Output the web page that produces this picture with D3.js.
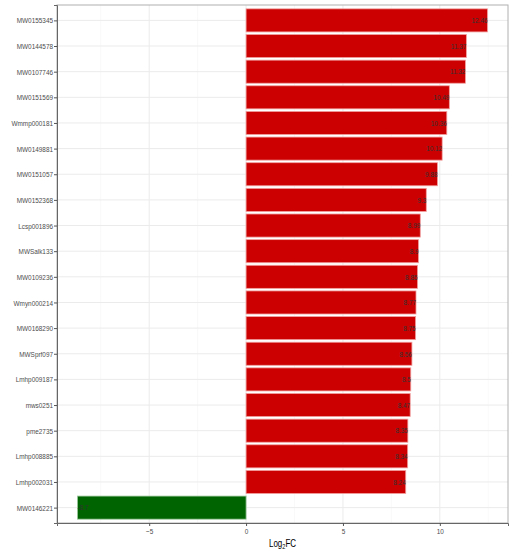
<!DOCTYPE html>
<html>
<head>
<meta charset="utf-8">
<script src="https://cdn.jsdelivr.net/npm/d3@7"></script>
<style>
  body { margin: 0; background: #fff; }
  svg text { font-family: "Liberation Sans Narrow", "Arial Narrow", "Liberation Sans", sans-serif; }
</style>
</head>
<body>
<div id="chart"></div>
<script>
// gene ids, top to bottom
var genes = ["MW0155345", "MW0144578", "MW0107746", "MW0151569", "Wmmp000181",
             "MW0149881", "MW0151057", "MW0152368", "Lcsp001896", "MWSalk133",
             "MW0109236", "Wmyn000214", "MW0168290", "MWSprf097", "Lmhp009187",
             "mws0251", "pme2735", "Lmhp008885", "Lmhp002031", "MW0146221"];
var log2fc = [12.46, 11.37, 11.32, 10.49, 10.36,
              10.12, 9.88, 9.3, 8.99, 8.9,
              8.85, 8.77, 8.75, 8.56, 8.5,
              8.47, 8.35, 8.34, 8.24, -8.7];
var xTicks = [-5, 0, 5, 10];
var xMinor = [-7.5, -2.5, 2.5, 7.5, 12.5];

var W = 512, H = 557;
// panel edges ("top" is taken on window, so p*)
var pLeft = 57, pRight = 508, pTop = 5, pBottom = 523;
var squeeze = 0.8;  // narrow font look

var data = genes.map(function(g, i) { return {gene: g, val: log2fc[i]}; });

var svg = d3.select("#chart").append("svg")
  .attr("width", W).attr("height", H);

var lo = d3.min(log2fc), hi = d3.max(log2fc), pad = (hi - lo) * 0.05;
var x = d3.scaleLinear()
  .domain([lo - pad, hi + pad])
  .range([pLeft, pRight]);

// discrete scale with ggplot's 0.6 expansion
var y = d3.scalePoint()
  .domain(genes)
  .range([pTop, pBottom])
  .padding(0.6);
var step = y.step();

// grid
var grid = svg.append("g");
grid.selectAll(".minor").data(xMinor).enter().append("line")
  .attr("x1", d => x(d)).attr("x2", d => x(d))
  .attr("y1", pTop).attr("y2", pBottom)
  .attr("stroke", "#f5f5f5").attr("stroke-width", 0.6);
grid.selectAll(".major").data(xTicks).enter().append("line")
  .attr("x1", d => x(d)).attr("x2", d => x(d))
  .attr("y1", pTop).attr("y2", pBottom)
  .attr("stroke", "#ebebeb").attr("stroke-width", 1);
grid.selectAll(".hmaj").data(genes).enter().append("line")
  .attr("x1", pLeft).attr("x2", pRight)
  .attr("y1", d => y(d)).attr("y2", d => y(d))
  .attr("stroke", "#ebebeb").attr("stroke-width", 1);

// bars
var bh = step * 0.9;
svg.append("g").selectAll("rect").data(data).enter().append("rect")
  .attr("x", d => x(Math.min(0, d.val)))
  .attr("width", d => Math.abs(x(d.val) - x(0)))
  .attr("y", d => y(d.gene) - bh / 2)
  .attr("height", bh)
  .attr("fill", d => d.val > 0 ? "#cc0000" : "#006400")
  .attr("stroke", d => d.val > 0 ? "#f2a0a0" : "#9cc79c")
  .attr("stroke-width", 0.8);

// value labels
svg.append("g").selectAll("text").data(data).enter().append("text")
  .attr("transform", d => "translate(" + x(d.val) + "," + y(d.gene) + ") scale(" + squeeze + ",1)")
  .attr("dy", "0.35em")
  .attr("text-anchor", d => d.val > 0 ? "end" : "start")
  .attr("font-size", 8)
  .attr("fill", "#333")
  .text(d => d.val);

// panel border
svg.append("rect")
  .attr("x", pLeft).attr("y", pTop)
  .attr("width", pRight - pLeft).attr("height", pBottom - pTop)
  .attr("fill", "none").attr("stroke", "#b0b0b0").attr("stroke-width", 1);

// axes
var xAxis = svg.append("g")
  .attr("transform", "translate(0," + pBottom + ")")
  .call(d3.axisBottom(x).tickValues(xTicks).tickSize(3).tickPadding(2).tickFormat(d3.format("d")));
var yAxis = svg.append("g")
  .attr("transform", "translate(" + pLeft + ",0)")
  .call(d3.axisLeft(y).tickSize(3).tickPadding(2));

[xAxis, yAxis].forEach(function(a) {
  a.select(".domain").attr("stroke", "#666").attr("stroke-width", 1);
  a.selectAll(".tick line").attr("stroke", "#555");
  a.selectAll(".tick text").attr("fill", "#4d4d4d").attr("font-size", 8)
    .style("font-family", '"Liberation Sans Narrow", "Arial Narrow", sans-serif')
    .attr("transform", "scale(" + squeeze + ",1)");
});

// axis title
var title = svg.append("text")
  .attr("transform", "translate(" + ((pLeft + pRight) / 2) + ",547) scale(" + squeeze + ",1)")
  .attr("text-anchor", "middle")
  .attr("font-size", 10)
  .attr("fill", "#000");
title.append("tspan").text("Log");
title.append("tspan").attr("font-size", 7).attr("dy", 2).text("2");
title.append("tspan").attr("dy", -2).text("FC");
</script>
</body>
</html>
